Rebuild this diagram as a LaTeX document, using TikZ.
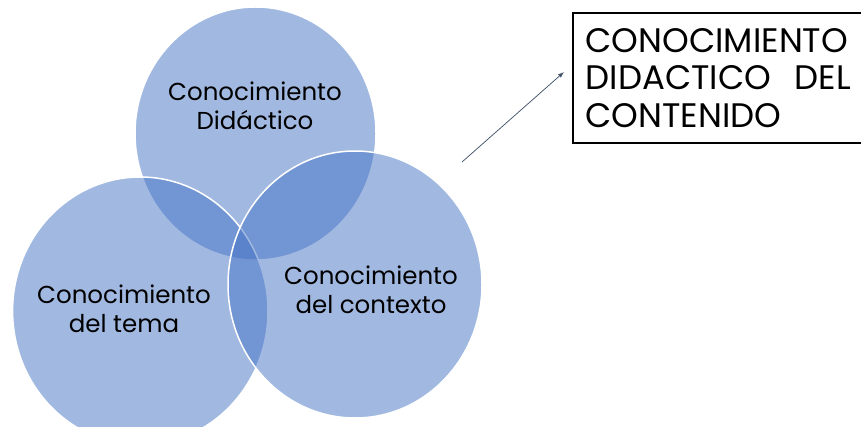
\documentclass[tikz,border=0pt]{standalone}
\usepackage{fontspec}
\setmainfont{Poppins}
\usetikzlibrary{arrows.meta}
\definecolor{vennblue}{RGB}{68,114,196}
\definecolor{arrowgray}{RGB}{68,84,106}
\tikzset{every picture/.style={line width=0.75pt}}
\tikzset{venn/.style={fill=vennblue,fill opacity=0.5,draw=white,line width=1.5pt},
  venntext/.style={align=center,inner sep=0pt,font=\fontsize{24.5}{29}\selectfont}}

\begin{document}
\begin{tikzpicture}[x=1pt,y=-1pt]
\useasboundingbox (0,0) rectangle (861,427);
\draw [venn] (255.5,133.5) ellipse [x radius=120.5pt, y radius=126.5pt];
\draw [venn] (140.3,311) ellipse [x radius=127.7pt, y radius=134pt];
\draw [venn] (355,284.5) ellipse [x radius=127pt, y radius=133.5pt];
\node [venntext] (didactico) at (255,106) {Conocimiento\\Didáctico};
\node [venntext] (tema) at (124,309) {Conocimiento\\del tema};
\node [venntext] (contexto) at (371,289.5) {Conocimiento\\del contexto};
\node [draw, line width=2pt, anchor=north west, inner xsep=13pt, inner ysep=0pt,
  minimum height=130pt, text width=265pt, align=left,
  font=\fontsize{34}{37.5}\selectfont] (contenido) at (571.7,11.7)
  {CONOCIMIENTO\\\makebox[265pt]{DIDACTICO\hfill DEL}\\CONTENIDO\par\vspace*{7pt}};
\coordinate (tail) at (462,162);
\draw [arrowgray, -{Latex[length=6pt,width=4.5pt]}] (tail) -- ([shift={(-7.7,-5.7)}]contenido.west);
\end{tikzpicture}
\end{document}
